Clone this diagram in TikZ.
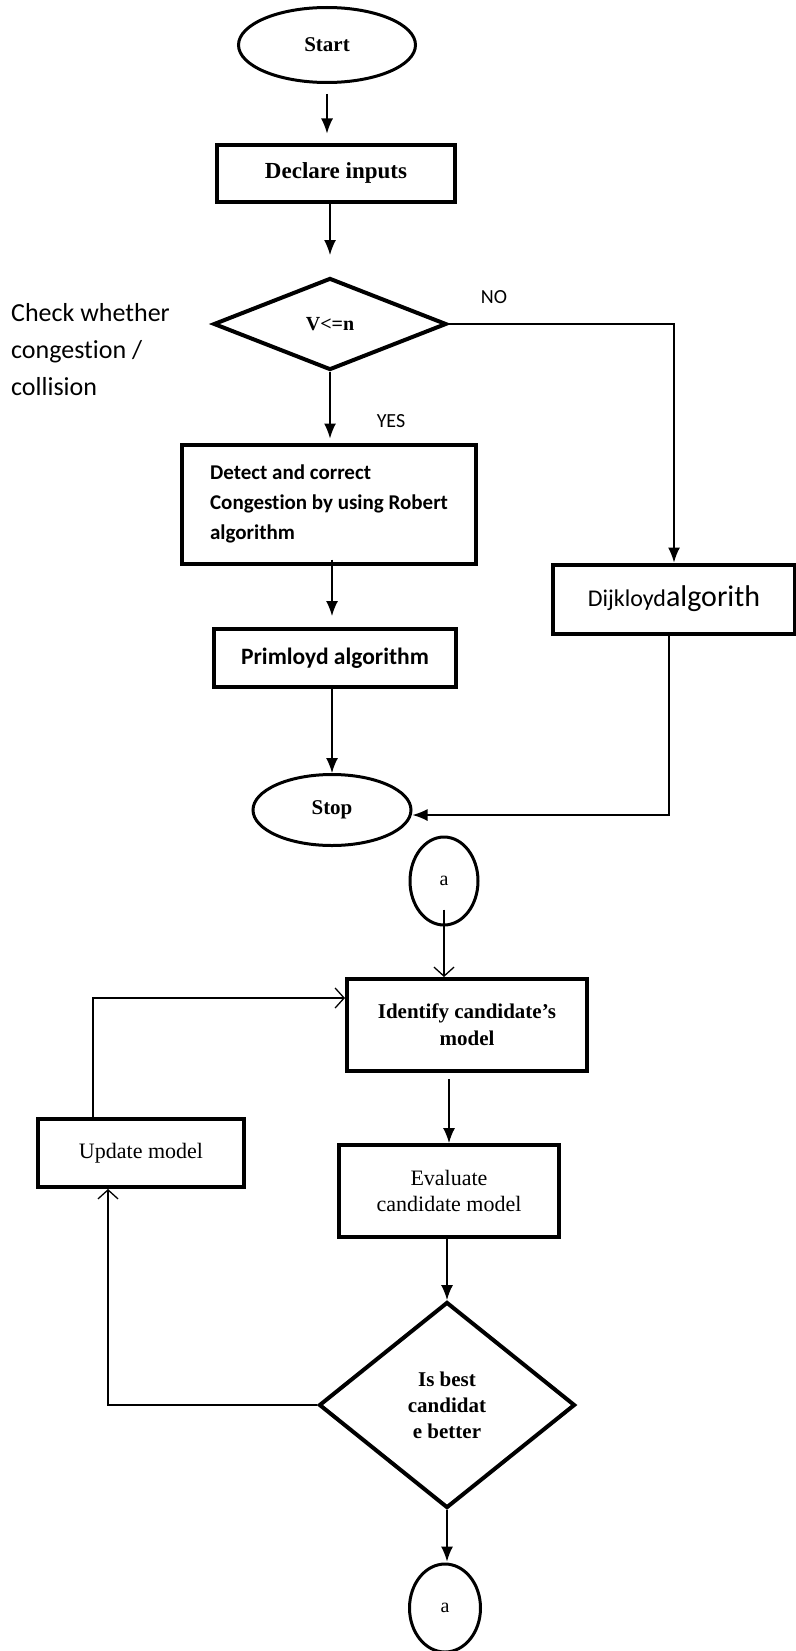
\documentclass[tikz,border=0pt]{standalone}
\usepackage{fontspec}
\setmainfont{Liberation Serif}
\newfontfamily\calib[Ligatures=NoCommon]{Carlito}
\usetikzlibrary{shapes.geometric,arrows.meta}
\begin{document}
\begin{tikzpicture}[x=1pt,y=-1pt,
  box/.style={draw,line width=4pt,rectangle,inner sep=0pt,align=center},
  oval/.style={draw,line width=3pt,ellipse,inner sep=0pt},
  dec/.style={draw,line width=4pt,diamond,inner sep=0pt,align=center},
  arr/.style={line width=1.4pt,-{Latex[length=15pt,width=12pt]}},
  oarr/.style={line width=1.3pt,-{Straight Barb[length=9pt,width=20pt,line width=1.3pt]}},
  tmsb/.style={font=\fontsize{21}{26}\selectfont\bfseries},
  tms/.style={font=\fontsize{22}{26}\selectfont},
  lbl/.style={font=\calib\fontsize{20}{24}\selectfont,inner sep=0pt},
]
\useasboundingbox (0,0) rectangle (795,1651);
% top flowchart
\node[oval,minimum width=177pt,minimum height=75pt,font=\fontsize{21}{24}\selectfont\bfseries] (start) at (327,45) {Start};
\node[box,minimum width=238pt,minimum height=57pt,font=\fontsize{23}{26}\selectfont\bfseries] (decl) at (336,173) {Declare inputs};
\node[dec,minimum width=233pt,minimum height=92pt,font=\fontsize{20}{24}\selectfont\bfseries] (dia1) at (330,324) {V<=n};
\node[box,minimum width=294pt,minimum height=119pt,align=left,font=\calib\bfseries\fontsize{21}{30}\selectfont] (detect) at (329,504) {Detect and correct\\Congestion by using Robert\\algorithm};
\node[box,minimum width=242pt,minimum height=58pt,font=\calib\bfseries\fontsize{23.5}{28}\selectfont] (prim) at (335,658) {Primloyd algorithm};
\node[box,minimum width=242pt,minimum height=69pt,font=\calib] (dijk) at (674,599) {\fontsize{24}{28}\selectfont Dijkloyd\fontsize{30}{34}\selectfont algorith};
\node[oval,minimum width=158pt,minimum height=71pt,font=\fontsize{21}{24}\selectfont\bfseries] (stop) at (332,810) {Stop};
\node[lbl,anchor=west,align=left,font=\calib\fontsize{26}{37}\selectfont] (check) at (11,350) {Check whether\\congestion /\\collision};
\node[lbl] (no) at (494,297) {NO};
\node[lbl] (yes) at (391,421) {YES};
\draw[arr,shorten <=10pt,shorten >=9pt] (start.south) -- (start.south |- decl.north);
\draw[arr,shorten >=21pt] ([xshift=-6pt]decl.south) -- (dia1.north);
\draw[arr,shorten >=4pt] (dia1) -- (dia1 |- detect.north);
\draw[arr] (dia1.east) -| (dijk.north);
\draw[arr,shorten <=-6pt,shorten >=11pt] ([xshift=3pt]detect.south) -- ([xshift=-3pt]prim.north);
\draw[arr] (stop.north |- prim.south) -- (stop.north);
\draw[arr] ([xshift=-5pt]dijk.south) |- ([yshift=-5pt]stop.east);
% bottom flowchart
\node[oval,minimum width=68pt,minimum height=88pt,font=\fontsize{20}{24}\selectfont] (a1) at (444,881) {a};
\node[box,minimum width=240pt,minimum height=92pt,font=\fontsize{21}{27}\selectfont\bfseries] (ident) at (467,1025) {Identify candidate’s\\model};
\node[box,minimum width=206pt,minimum height=68pt,tms] (update) at (141,1153) {Update model};
\node[box,minimum width=220pt,minimum height=92pt,tms] (eval) at (449,1191) {Evaluate\\candidate model};
\node[dec,minimum width=256pt,minimum height=206pt,tmsb] (dia2) at (447,1405) {Is best\\candidat\\e better};
\node[oval,minimum width=71pt,minimum height=88pt,font=\fontsize{20}{24}\selectfont] (a2) at (445,1608) {a};
\draw[oarr,shorten <=-17pt] (a1.south) -- (a1.south |- ident.north);
\draw[arr,shorten <=6pt] (eval.north |- ident.south) -- (eval.north);
\draw[arr] (eval.south -| dia2.north) -- (dia2.north);
\draw[arr,shorten >=1pt] (dia2.south) -- (dia2.south |- a2.north);
\draw[oarr] (dia2.west) -| ([xshift=-33pt]update.south);
\draw[oarr] ([xshift=-48pt]update.north) |- ([yshift=27pt]ident.west);
\end{tikzpicture}
\end{document}
